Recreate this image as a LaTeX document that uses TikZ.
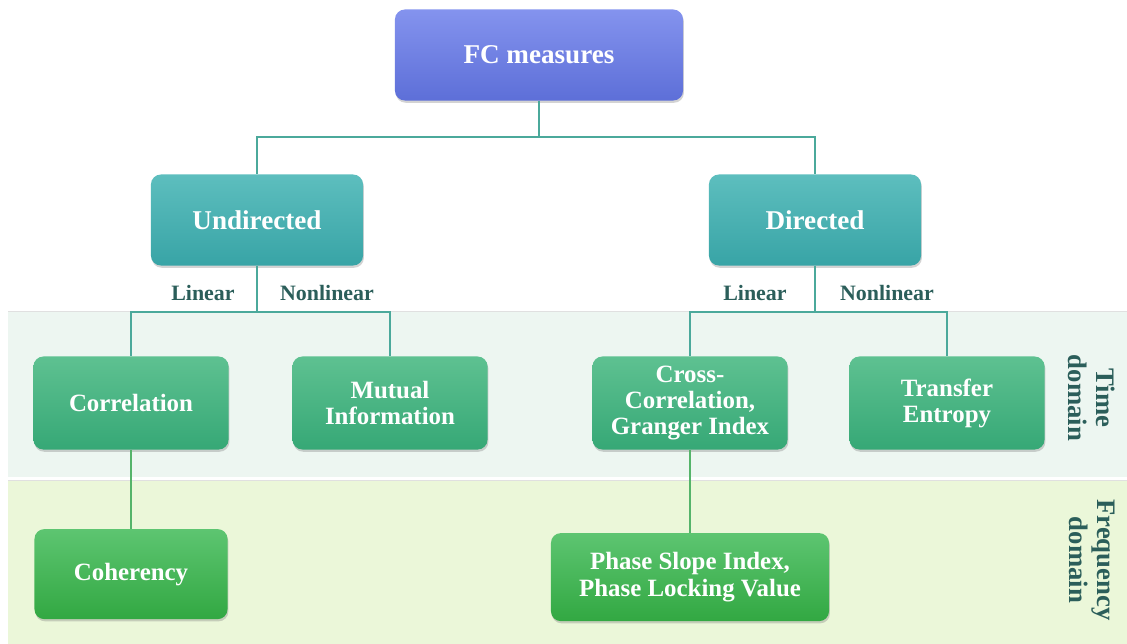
\documentclass[tikz,border=0pt]{standalone}
\usepackage{fontspec}
\setmainfont{Liberation Serif}
\usetikzlibrary{positioning,shadows}
\definecolor{linkteal}{HTML}{4BA99B}
\definecolor{linkgreen}{HTML}{55B46A}
\definecolor{labteal}{HTML}{2B5E5A}
\definecolor{timeband}{HTML}{EDF6F1}
\definecolor{freqband}{HTML}{EBF7D9}
\definecolor{roottop}{HTML}{8493EE}
\definecolor{rootbot}{HTML}{5D6FD8}
\definecolor{kindtop}{HTML}{5DBEBE}
\definecolor{kindbot}{HTML}{38A4A6}
\definecolor{timetop}{HTML}{5EC191}
\definecolor{timebot}{HTML}{36A876}
\definecolor{freqtop}{HTML}{5DC571}
\definecolor{freqbot}{HTML}{32A842}
\tikzset{
  base/.style={
    rectangle, rounded corners=7pt, align=center, text=white,
    inner sep=3pt,
    drop shadow={shadow xshift=0.6pt, shadow yshift=-1.6pt, opacity=0.35}
  },
  rootbox/.style={
    base, top color=roottop, bottom color=rootbot,
    font=\fontsize{19.3}{22}\selectfont\bfseries,
    minimum width=7.2cm, minimum height=2.275cm
  },
  kindbox/.style={
    base, top color=kindtop, bottom color=kindbot,
    font=\fontsize{19.3}{22}\selectfont\bfseries,
    minimum width=5.3cm, minimum height=2.275cm
  },
  timebox/.style={
    base, top color=timetop, bottom color=timebot,
    font=\fontsize{17.7}{18.5}\selectfont\bfseries,
    minimum width=4.875cm, minimum height=2.325cm
  },
  freqbox/.style={
    base, top color=freqtop, bottom color=freqbot,
    font=\fontsize{17.7}{18.5}\selectfont\bfseries,
    minimum height=2.25cm
  },
  link/.style={draw=linkteal, line width=1.4pt},
  glink/.style={draw=linkgreen, line width=1.4pt},
  branch/.style={text=labteal, font=\fontsize{15.6}{17}\selectfont\bfseries},
  side/.style={text=labteal, font=\fontsize{19}{20}\selectfont\bfseries,
    align=center, rotate=-90},
}
\begin{document}
\begin{tikzpicture}[x=0.025cm, y=-0.025cm]
  \useasboundingbox (0,0) rectangle (1127,644);
  % domain bands
  \fill[timeband] (8,311) rectangle (1127,477);
  \draw[black!12, line width=0.4pt] (8,311) -- (1127,311);
  \fill[freqband] (8,480) rectangle (1127,644);
  \draw[black!12, line width=0.4pt] (8,480) -- (1127,480);

  \node[rootbox] (fc) at (539,55) {FC measures};
  \node[kindbox] (und) at (257,220) {Undirected};
  \node[kindbox] (dir) at (815,220) {Directed};

  \node[timebox] (corr) at (131,403) {Correlation};
  \node[timebox] (mi) at (390,403) {Mutual\\Information};
  \node[timebox] (xcorr) at (690,403) {Cross-\\Correlation,\\Granger Index};
  \node[timebox] (te) at (947,403) {Transfer\\Entropy};

  \node[freqbox, minimum width=4.825cm, below=1.975cm of corr] (coh) {Coherency};
  \node[freqbox, minimum width=6.95cm, minimum height=2.2cm,
    below=2.075cm of xcorr] (psi) {Phase Slope Index,\\Phase Locking Value};

  \node[branch] (ulin) at (203,293) {Linear};
  \node[branch] (unon) at (327,293) {Nonlinear};
  \node[branch] (dlin) at (755,293) {Linear};
  \node[branch] (dnon) at (887,293) {Nonlinear};

  \node[side] (tdom) at (1092,398) {Time\\domain};
  \node[side] (fdom) at (1092,560) {Frequency\\domain};

  % tree links
  \draw[link] (fc.south) -- ++(0,36) -| (und.north);
  \draw[link] (fc.south) -- ++(0,36) -| (dir.north);
  \draw[link] (und.south) -- ++(0,46) -| (corr.north);
  \draw[link] (und.south) -- ++(0,46) -| (mi.north);
  \draw[link] (dir.south) -- ++(0,46) -| (xcorr.north);
  \draw[link] (dir.south) -- ++(0,46) -| (te.north);
  \draw[glink] (corr) -- (coh);
  \draw[glink] (xcorr) -- (psi);
\end{tikzpicture}
\end{document}
